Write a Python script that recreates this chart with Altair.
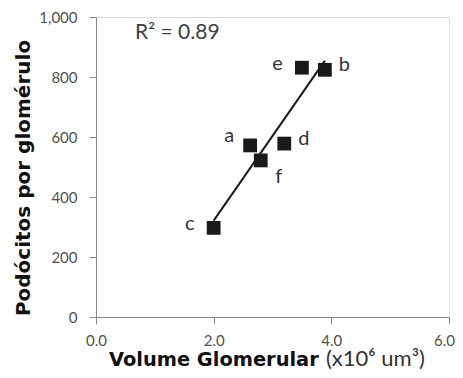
import altair as alt
import pandas as pd

labels = ["a", "b", "c", "d", "e", "f"]
volume = [2.62, 3.89, 2.0, 3.2, 3.5, 2.8]
podocytes = [572, 824, 297, 578, 831, 522]
r2_text = "R² = 0.89"
x_ticks = [0, 2, 4, 6]
y_ticks = [0, 200, 400, 600, 800, 1000]

df = pd.DataFrame({"label": labels, "vol": volume, "pod": podocytes})

W, H = 353, 300
AX = "#8a8a8a"
TXT = "#505050"

xs = alt.Scale(domain=[0, 6])
ys = alt.Scale(domain=[0, 1000])

xax = alt.Axis(values=x_ticks, format=".1f", grid=False, domainColor=AX, tickColor=AX,
               tickSize=7, labelPadding=9, labelFont="Lato", labelFontSize=15,
               labelColor=TXT, title=None, labelFlush=False,
               labelOffset=alt.ExprRef("datum.value == 6 ? -5 : 0"))
yax = alt.Axis(values=y_ticks, format=",.0f", grid=False, domainColor=AX, tickColor=AX,
               tickSize=7, labelPadding=12, labelFont="Lato", labelFontSize=15,
               labelColor=TXT, title=None)

base = alt.Chart(df)

points = base.mark_square(size=190, color="#1a1a1a", opacity=1, filled=True).encode(
    x=alt.X("vol:Q", scale=xs, axis=xax),
    y=alt.Y("pod:Q", scale=ys, axis=yax),
)

line = base.transform_regression("vol", "pod").mark_line(color="#1a1a1a", strokeWidth=2).encode(
    x=alt.X("vol:Q", scale=xs), y=alt.Y("pod:Q", scale=ys)
)

def lbl(names, **kw):
    return base.transform_filter(alt.FieldOneOfPredicate(field="label", oneOf=names)).mark_text(
        font="Lato", fontSize=20, color="#333333", **kw
    ).encode(x=alt.X("vol:Q", scale=xs), y=alt.Y("pod:Q", scale=ys), text="label:N")

lab_a = lbl(["a"], align="right", baseline="middle", dx=-16, dy=-9)
lab_ce = lbl(["c", "e"], align="right", baseline="middle", dx=-19, dy=-4)
lab_bd = lbl(["b", "d"], align="left", baseline="middle", dx=14, dy=-5)
lab_f = lbl(["f"], align="center", baseline="middle", dx=18, dy=17)

r2 = alt.Chart(pd.DataFrame({"t": [r2_text]})).mark_text(
    font="Lato", fontSize=21, color="#404040", align="left", baseline="middle"
).encode(x=alt.value(39), y=alt.value(16), text="t:N")

xt1 = alt.Chart(pd.DataFrame({"t": ["Volume Glomerular"]})).mark_text(
    font="DejaVu Sans", fontWeight="bold", fontSize=19.4, color="#111111", align="left", baseline="alphabetic"
).encode(x=alt.value(13), y=alt.value(349), text="t:N")
xt2 = alt.Chart(pd.DataFrame({"t": ["(x10⁶ um³)"]})).mark_text(
    font="Lato", fontSize=22, color="#333333", align="left", baseline="alphabetic"
).encode(x=alt.value(230), y=alt.value(349), text="t:N")
yt = alt.Chart(pd.DataFrame({"t": ["Podócitos por glomérulo"]})).mark_text(
    font="DejaVu Sans", fontWeight="bold", fontSize=20, color="#111111", align="center",
    baseline="middle", angle=270
).encode(x=alt.value(-72), y=alt.value(161), text="t:N")

chart = alt.layer(line, points, lab_a, lab_ce, lab_bd, lab_f, r2, xt1, xt2, yt).properties(
    width=W, height=H, autosize=alt.AutoSizeParams(type="none"),
    padding={"left": 88, "top": 9, "right": 6, "bottom": 53}
).configure_view(stroke=None).configure(background="white")

chart.save("out.html", embed_options={"renderer": "svg", "actions": False})
